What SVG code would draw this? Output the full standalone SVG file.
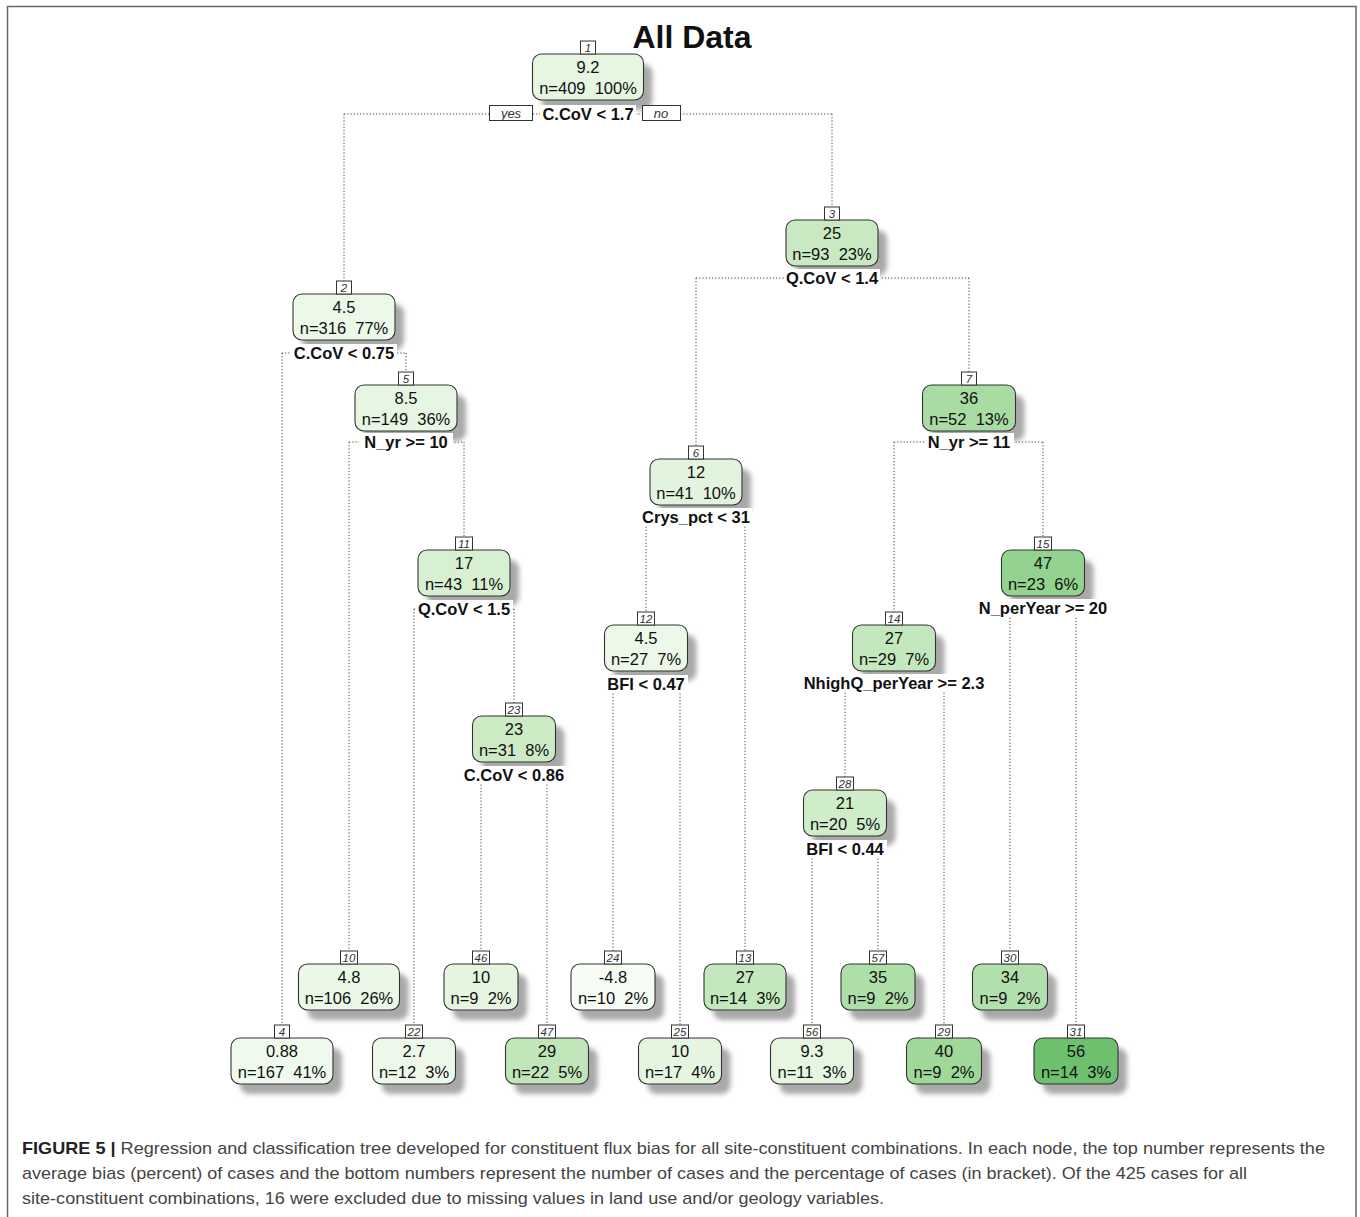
<svg xmlns="http://www.w3.org/2000/svg" width="1360" height="1217" viewBox="0 0 1360 1217">
<defs>
<filter id="blur" x="-20%" y="-20%" width="140%" height="160%"><feGaussianBlur stdDeviation="2.5"/></filter>
</defs>
<style>
text{font-family:"Liberation Sans",Arial,sans-serif}
.c{fill:none;stroke:#444;stroke-width:1;stroke-dasharray:1.2 2}
.sh{fill:#a9a9a9;filter:url(#blur)}
.bx{stroke:#333;stroke-width:1.1}
.lb{fill:#fff;stroke:#333;stroke-width:1}
.lt{font-size:11.5px;font-style:italic;fill:#333;text-anchor:middle}
.v{font-size:16.5px;fill:#111;text-anchor:middle}
.sp{font-size:16.5px;font-weight:bold;fill:#111;text-anchor:middle}
.bg{fill:#fff}
.yn{font-size:13px;font-style:italic;fill:#333;text-anchor:middle}
.cap{font-size:17px;fill:#444}
</style>
<rect width="1360" height="1217" fill="#fff"/>
<path d="M7.5 1217V6.5H1356V1217" fill="none" stroke="#666" stroke-width="1.5"/>
<text x="692" y="48" font-size="32" font-weight="bold" text-anchor="middle" fill="#111">All Data</text>
<g id="connectors">
<path class="c" d="M344 114H832M344 114V282M832 114V208"/>
<path class="c" d="M282 353H406M282 353V1026M406 353V373"/>
<path class="c" d="M349 442H464M349 442V952M464 442V538"/>
<path class="c" d="M414 609H514M414 609V1026M514 609V704"/>
<path class="c" d="M481 775H547M481 775V952M547 775V1026"/>
<path class="c" d="M696 278H969M696 278V447M969 278V373"/>
<path class="c" d="M646 517H745M646 517V613M745 517V952"/>
<path class="c" d="M613 684H680M613 684V952M680 684V1026"/>
<path class="c" d="M894 442H1043M894 442V613M1043 442V538"/>
<path class="c" d="M845 683H944M845 683V778M944 683V1026"/>
<path class="c" d="M812 849H878M812 849V1026M878 849V952"/>
<path class="c" d="M1010 608H1076M1010 608V952M1076 608V1026"/>
</g>
<g id="n1">
<rect class="sh" x="541.5" y="64" width="111" height="46" rx="9"/>
<rect class="bx" x="532.5" y="54" width="111" height="46" rx="9" fill="#e6f6e1"/>
<rect class="lb" x="580.5" y="41" width="15" height="13"/><text class="lt" x="588" y="51.5">1</text>
<text class="v" x="588" y="73">9.2</text><text class="v" x="588" y="94" xml:space="preserve">n=409  100%</text>
<rect class="bg" x="540" y="105" width="96" height="18"/><text class="sp" x="588" y="119.5">C.CoV &lt; 1.7</text>
<rect class="lb" x="489.5" y="105.5" width="43" height="15"/><text class="yn" x="511" y="117.5">yes</text>
<rect class="lb" x="642.5" y="105.5" width="38" height="15"/><text class="yn" x="661" y="117.5">no</text>
</g>
<g id="n2">
<rect class="sh" x="302" y="304" width="102" height="46" rx="9"/>
<rect class="bx" x="293" y="294" width="102" height="46" rx="9" fill="#ecf8e8"/>
<rect class="lb" x="336.5" y="281" width="15" height="13"/><text class="lt" x="344" y="291.5">2</text>
<text class="v" x="344" y="313">4.5</text><text class="v" x="344" y="334" xml:space="preserve">n=316  77%</text>
<rect class="bg" x="291" y="344" width="106" height="18"/><text class="sp" x="344" y="358.5">C.CoV &lt; 0.75</text>
</g>
<g id="n5">
<rect class="sh" x="364" y="395" width="102" height="46" rx="9"/>
<rect class="bx" x="355" y="385" width="102" height="46" rx="9" fill="#e7f6e2"/>
<rect class="lb" x="398.5" y="372" width="15" height="13"/><text class="lt" x="406" y="382.5">5</text>
<text class="v" x="406" y="404">8.5</text><text class="v" x="406" y="425" xml:space="preserve">n=149  36%</text>
<rect class="bg" x="359" y="433" width="94" height="18"/><text class="sp" x="406" y="447.5">N_yr &gt;= 10</text>
</g>
<g id="n11">
<rect class="sh" x="427" y="560" width="92" height="46" rx="9"/>
<rect class="bx" x="418" y="550" width="92" height="46" rx="9" fill="#d8f0d2"/>
<rect class="lb" x="455.5" y="537" width="17" height="13"/><text class="lt" x="464" y="547.5">11</text>
<text class="v" x="464" y="569">17</text><text class="v" x="464" y="590" xml:space="preserve">n=43  11%</text>
<rect class="bg" x="415" y="600" width="98" height="18"/><text class="sp" x="464" y="614.5">Q.CoV &lt; 1.5</text>
</g>
<g id="n23">
<rect class="sh" x="481.5" y="726" width="83" height="46" rx="9"/>
<rect class="bx" x="472.5" y="716" width="83" height="46" rx="9" fill="#ccebc5"/>
<rect class="lb" x="505.5" y="703" width="17" height="13"/><text class="lt" x="514" y="713.5">23</text>
<text class="v" x="514" y="735">23</text><text class="v" x="514" y="756" xml:space="preserve">n=31  8%</text>
<rect class="bg" x="461" y="766" width="106" height="18"/><text class="sp" x="514" y="780.5">C.CoV &lt; 0.86</text>
</g>
<g id="n3">
<rect class="sh" x="795" y="230" width="92" height="46" rx="9"/>
<rect class="bx" x="786" y="220" width="92" height="46" rx="9" fill="#c8e9c1"/>
<rect class="lb" x="824.5" y="207" width="15" height="13"/><text class="lt" x="832" y="217.5">3</text>
<text class="v" x="832" y="239">25</text><text class="v" x="832" y="260" xml:space="preserve">n=93  23%</text>
<rect class="bg" x="784" y="269" width="96" height="18"/><text class="sp" x="832" y="283.5">Q.CoV &lt; 1.4</text>
</g>
<g id="n6">
<rect class="sh" x="659" y="469" width="92" height="46" rx="9"/>
<rect class="bx" x="650" y="459" width="92" height="46" rx="9" fill="#e2f4dd"/>
<rect class="lb" x="688.5" y="446" width="15" height="13"/><text class="lt" x="696" y="456.5">6</text>
<text class="v" x="696" y="478">12</text><text class="v" x="696" y="499" xml:space="preserve">n=41  10%</text>
<rect class="bg" x="639" y="508" width="113" height="18"/><text class="sp" x="696" y="522.5">Crys_pct &lt; 31</text>
</g>
<g id="n12">
<rect class="sh" x="613.5" y="635" width="83" height="46" rx="9"/>
<rect class="bx" x="604.5" y="625" width="83" height="46" rx="9" fill="#ecf8e8"/>
<rect class="lb" x="637.5" y="612" width="17" height="13"/><text class="lt" x="646" y="622.5">12</text>
<text class="v" x="646" y="644">4.5</text><text class="v" x="646" y="665" xml:space="preserve">n=27  7%</text>
<rect class="bg" x="604" y="675" width="84" height="18"/><text class="sp" x="646" y="689.5">BFI &lt; 0.47</text>
</g>
<g id="n7">
<rect class="sh" x="931.5" y="395" width="93" height="46" rx="9"/>
<rect class="bx" x="922.5" y="385" width="93" height="46" rx="9" fill="#a8dca2"/>
<rect class="lb" x="961.5" y="372" width="15" height="13"/><text class="lt" x="969" y="382.5">7</text>
<text class="v" x="969" y="404">36</text><text class="v" x="969" y="425" xml:space="preserve">n=52  13%</text>
<rect class="bg" x="924" y="433" width="90" height="18"/><text class="sp" x="969" y="447.5">N_yr &gt;= 11</text>
</g>
<g id="n14">
<rect class="sh" x="861.5" y="635" width="83" height="46" rx="9"/>
<rect class="bx" x="852.5" y="625" width="83" height="46" rx="9" fill="#c4e8bd"/>
<rect class="lb" x="885.5" y="612" width="17" height="13"/><text class="lt" x="894" y="622.5">14</text>
<text class="v" x="894" y="644">27</text><text class="v" x="894" y="665" xml:space="preserve">n=29  7%</text>
<rect class="bg" x="800" y="674" width="188" height="18"/><text class="sp" x="894" y="688.5">NhighQ_perYear &gt;= 2.3</text>
</g>
<g id="n28">
<rect class="sh" x="812.5" y="800" width="83" height="46" rx="9"/>
<rect class="bx" x="803.5" y="790" width="83" height="46" rx="9" fill="#d0edca"/>
<rect class="lb" x="836.5" y="777" width="17" height="13"/><text class="lt" x="845" y="787.5">28</text>
<text class="v" x="845" y="809">21</text><text class="v" x="845" y="830" xml:space="preserve">n=20  5%</text>
<rect class="bg" x="803" y="840" width="84" height="18"/><text class="sp" x="845" y="854.5">BFI &lt; 0.44</text>
</g>
<g id="n15">
<rect class="sh" x="1010.5" y="560" width="83" height="46" rx="9"/>
<rect class="bx" x="1001.5" y="550" width="83" height="46" rx="9" fill="#93d28f"/>
<rect class="lb" x="1034.5" y="537" width="17" height="13"/><text class="lt" x="1043" y="547.5">15</text>
<text class="v" x="1043" y="569">47</text><text class="v" x="1043" y="590" xml:space="preserve">n=23  6%</text>
<rect class="bg" x="975" y="599" width="136" height="18"/><text class="sp" x="1043" y="613.5">N_perYear &gt;= 20</text>
</g>
<g id="n10">
<rect class="sh" x="307.5" y="974" width="101" height="46" rx="9"/>
<rect class="bx" x="298.5" y="964" width="101" height="46" rx="9" fill="#ebf8e7"/>
<rect class="lb" x="340.5" y="951" width="17" height="13"/><text class="lt" x="349" y="961.5">10</text>
<text class="v" x="349" y="983">4.8</text><text class="v" x="349" y="1004" xml:space="preserve">n=106  26%</text>
</g>
<g id="n46">
<rect class="sh" x="453" y="974" width="74" height="46" rx="9"/>
<rect class="bx" x="444" y="964" width="74" height="46" rx="9" fill="#e5f5e0"/>
<rect class="lb" x="472.5" y="951" width="17" height="13"/><text class="lt" x="481" y="961.5">46</text>
<text class="v" x="481" y="983">10</text><text class="v" x="481" y="1004" xml:space="preserve">n=9  2%</text>
</g>
<g id="n24">
<rect class="sh" x="580" y="974" width="84" height="46" rx="9"/>
<rect class="bx" x="571" y="964" width="84" height="46" rx="9" fill="#f7fcf5"/>
<rect class="lb" x="604.5" y="951" width="17" height="13"/><text class="lt" x="613" y="961.5">24</text>
<text class="v" x="613" y="983">-4.8</text><text class="v" x="613" y="1004" xml:space="preserve">n=10  2%</text>
</g>
<g id="n13">
<rect class="sh" x="713" y="974" width="82" height="46" rx="9"/>
<rect class="bx" x="704" y="964" width="82" height="46" rx="9" fill="#c4e8bd"/>
<rect class="lb" x="736.5" y="951" width="17" height="13"/><text class="lt" x="745" y="961.5">13</text>
<text class="v" x="745" y="983">27</text><text class="v" x="745" y="1004" xml:space="preserve">n=14  3%</text>
</g>
<g id="n57">
<rect class="sh" x="850" y="974" width="74" height="46" rx="9"/>
<rect class="bx" x="841" y="964" width="74" height="46" rx="9" fill="#afdfa9"/>
<rect class="lb" x="869.5" y="951" width="17" height="13"/><text class="lt" x="878" y="961.5">57</text>
<text class="v" x="878" y="983">35</text><text class="v" x="878" y="1004" xml:space="preserve">n=9  2%</text>
</g>
<g id="n30">
<rect class="sh" x="981.5" y="974" width="75" height="46" rx="9"/>
<rect class="bx" x="972.5" y="964" width="75" height="46" rx="9" fill="#b2e0ac"/>
<rect class="lb" x="1001.5" y="951" width="17" height="13"/><text class="lt" x="1010" y="961.5">30</text>
<text class="v" x="1010" y="983">34</text><text class="v" x="1010" y="1004" xml:space="preserve">n=9  2%</text>
</g>
<g id="n4">
<rect class="sh" x="240" y="1048" width="102" height="46" rx="9"/>
<rect class="bx" x="231" y="1038" width="102" height="46" rx="9" fill="#f0f9ed"/>
<rect class="lb" x="274.5" y="1025" width="15" height="13"/><text class="lt" x="282" y="1035.5">4</text>
<text class="v" x="282" y="1057">0.88</text><text class="v" x="282" y="1078" xml:space="preserve">n=167  41%</text>
</g>
<g id="n22">
<rect class="sh" x="381.5" y="1048" width="83" height="46" rx="9"/>
<rect class="bx" x="372.5" y="1038" width="83" height="46" rx="9" fill="#eef8ea"/>
<rect class="lb" x="405.5" y="1025" width="17" height="13"/><text class="lt" x="414" y="1035.5">22</text>
<text class="v" x="414" y="1057">2.7</text><text class="v" x="414" y="1078" xml:space="preserve">n=12  3%</text>
</g>
<g id="n47">
<rect class="sh" x="514.5" y="1048" width="83" height="46" rx="9"/>
<rect class="bx" x="505.5" y="1038" width="83" height="46" rx="9" fill="#bfe5b8"/>
<rect class="lb" x="538.5" y="1025" width="17" height="13"/><text class="lt" x="547" y="1035.5">47</text>
<text class="v" x="547" y="1057">29</text><text class="v" x="547" y="1078" xml:space="preserve">n=22  5%</text>
</g>
<g id="n25">
<rect class="sh" x="647.5" y="1048" width="83" height="46" rx="9"/>
<rect class="bx" x="638.5" y="1038" width="83" height="46" rx="9" fill="#e5f5e0"/>
<rect class="lb" x="671.5" y="1025" width="17" height="13"/><text class="lt" x="680" y="1035.5">25</text>
<text class="v" x="680" y="1057">10</text><text class="v" x="680" y="1078" xml:space="preserve">n=17  4%</text>
</g>
<g id="n56">
<rect class="sh" x="779.5" y="1048" width="83" height="46" rx="9"/>
<rect class="bx" x="770.5" y="1038" width="83" height="46" rx="9" fill="#e6f6e1"/>
<rect class="lb" x="803.5" y="1025" width="17" height="13"/><text class="lt" x="812" y="1035.5">56</text>
<text class="v" x="812" y="1057">9.3</text><text class="v" x="812" y="1078" xml:space="preserve">n=11  3%</text>
</g>
<g id="n29">
<rect class="sh" x="915.5" y="1048" width="75" height="46" rx="9"/>
<rect class="bx" x="906.5" y="1038" width="75" height="46" rx="9" fill="#9fd899"/>
<rect class="lb" x="935.5" y="1025" width="17" height="13"/><text class="lt" x="944" y="1035.5">29</text>
<text class="v" x="944" y="1057">40</text><text class="v" x="944" y="1078" xml:space="preserve">n=9  2%</text>
</g>
<g id="n31">
<rect class="sh" x="1043" y="1048" width="84" height="46" rx="9"/>
<rect class="bx" x="1034" y="1038" width="84" height="46" rx="9" fill="#6ec06e"/>
<rect class="lb" x="1067.5" y="1025" width="17" height="13"/><text class="lt" x="1076" y="1035.5">31</text>
<text class="v" x="1076" y="1057">56</text><text class="v" x="1076" y="1078" xml:space="preserve">n=14  3%</text>
</g>
<g id="caption">
<text class="cap" x="22" y="1154" textLength="1303" lengthAdjust="spacingAndGlyphs"><tspan font-weight="bold" fill="#222">FIGURE 5 |</tspan> Regression and classification tree developed for constituent flux bias for all site-constituent combinations. In each node, the top number represents the</text>
<text class="cap" x="22" y="1179" textLength="1225" lengthAdjust="spacingAndGlyphs">average bias (percent) of cases and the bottom numbers represent the number of cases and the percentage of cases (in bracket). Of the 425 cases for all</text>
<text class="cap" x="22" y="1204" textLength="862" lengthAdjust="spacingAndGlyphs">site-constituent combinations, 16 were excluded due to missing values in land use and/or geology variables.</text>
</g>
</svg>
